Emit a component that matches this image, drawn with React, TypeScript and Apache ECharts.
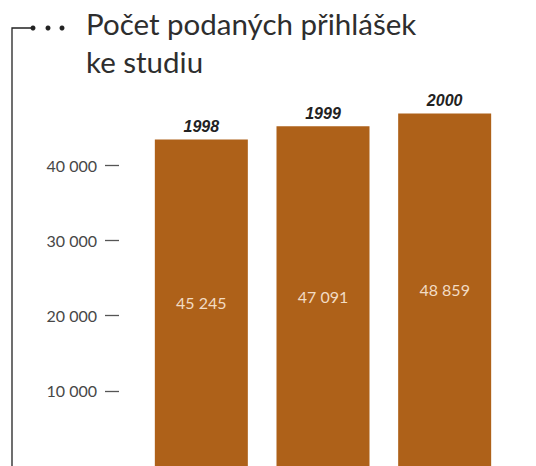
import React, { useEffect, useRef } from "react";
import * as echarts from "echarts";

const titleLines = ["Počet podaných přihlášek", "ke studiu"];
const years = ["1998", "1999", "2000"];
const applications = [45245, 47091, 48859];
const tickValues = [10000, 20000, 30000, 40000];

const fmt = (v: number) => String(v).replace(/\B(?=(\d{3})+(?!\d))/g, " ");

export default function App() {
  const ref = useRef<HTMLDivElement>(null);
  useEffect(() => {
    if (!ref.current) return;
    const chart = echarts.init(ref.current, null, { renderer: "svg" });
    const barColor = "#ae6119";
    chart.setOption({
      animation: false,
      backgroundColor: "#ffffff",
      title: {
        text: titleLines.join("\n"),
        left: 81,
        top: 0,
        textStyle: {
          fontFamily: "Lato",
          fontSize: 29.5,
          fontWeight: "normal",
          color: "#2e2e2e",
          lineHeight: 37.6,
        },
      },
      grid: [
        { left: 140.5, right: 30.5, top: 33, bottom: 0 },
        { left: 119, right: 400, top: 165, bottom: 0 },
      ],
      xAxis: [
        { type: "category", gridIndex: 0, data: years, show: false },
        { type: "value", gridIndex: 1, show: false },
      ],
      yAxis: [
        { type: "value", gridIndex: 0, min: 0, max: 60000, show: false },
        {
          type: "value",
          gridIndex: 1,
          min: 0,
          max: 40000,
          interval: 10000,
          axisLine: { show: false },
          splitLine: { show: false },
          axisTick: {
            show: true,
            length: 14,
            customValues: tickValues,
            lineStyle: { color: "#555555", width: 1.3 },
          },
          axisLabel: {
            margin: 22,
            color: "#474747",
            fontFamily: "Lato",
            fontSize: 16,
            customValues: tickValues,
            formatter: (v: number) => fmt(v),
          },
        },
      ],
      series: [
        {
          type: "bar",
          xAxisIndex: 0,
          yAxisIndex: 0,
          data: applications,
          barWidth: 93,
          itemStyle: { color: barColor },
          label: {
            show: true,
            position: "inside",
            color: "#f2dcc4",
            fontFamily: "Lato",
            fontSize: 16,
            formatter: (p: any) => fmt(p.value),
          },
        },
        {
          type: "bar",
          xAxisIndex: 0,
          yAxisIndex: 0,
          data: applications,
          barWidth: 93,
          barGap: "-100%",
          itemStyle: { color: "transparent" },
          silent: true,
          label: {
            show: true,
            position: "top",
            distance: 5,
            color: "#222222",
            fontFamily: "Liberation Sans",
            fontStyle: "italic",
            fontWeight: "bold",
            fontSize: 16,
            formatter: (p: any) => p.name,
          },
        },
      ],
      graphic: [
        {
          type: "polyline",
          shape: { points: [[12, 466], [12, 28], [32, 28]] },
          style: { stroke: "#222222", lineWidth: 1.3, fill: "none" },
        },
        { type: "circle", shape: { cx: 33, cy: 28, r: 2.5 }, style: { fill: "#222222" } },
        { type: "circle", shape: { cx: 48, cy: 28, r: 2.5 }, style: { fill: "#222222" } },
        { type: "circle", shape: { cx: 62, cy: 28, r: 2.5 }, style: { fill: "#222222" } },
      ],
    });
    return () => chart.dispose();
  }, []);
  return (
    <div
      ref={ref}
      style={{ position: "fixed", left: 0, top: 0, width: 536, height: 466 }}
    />
  );
}
